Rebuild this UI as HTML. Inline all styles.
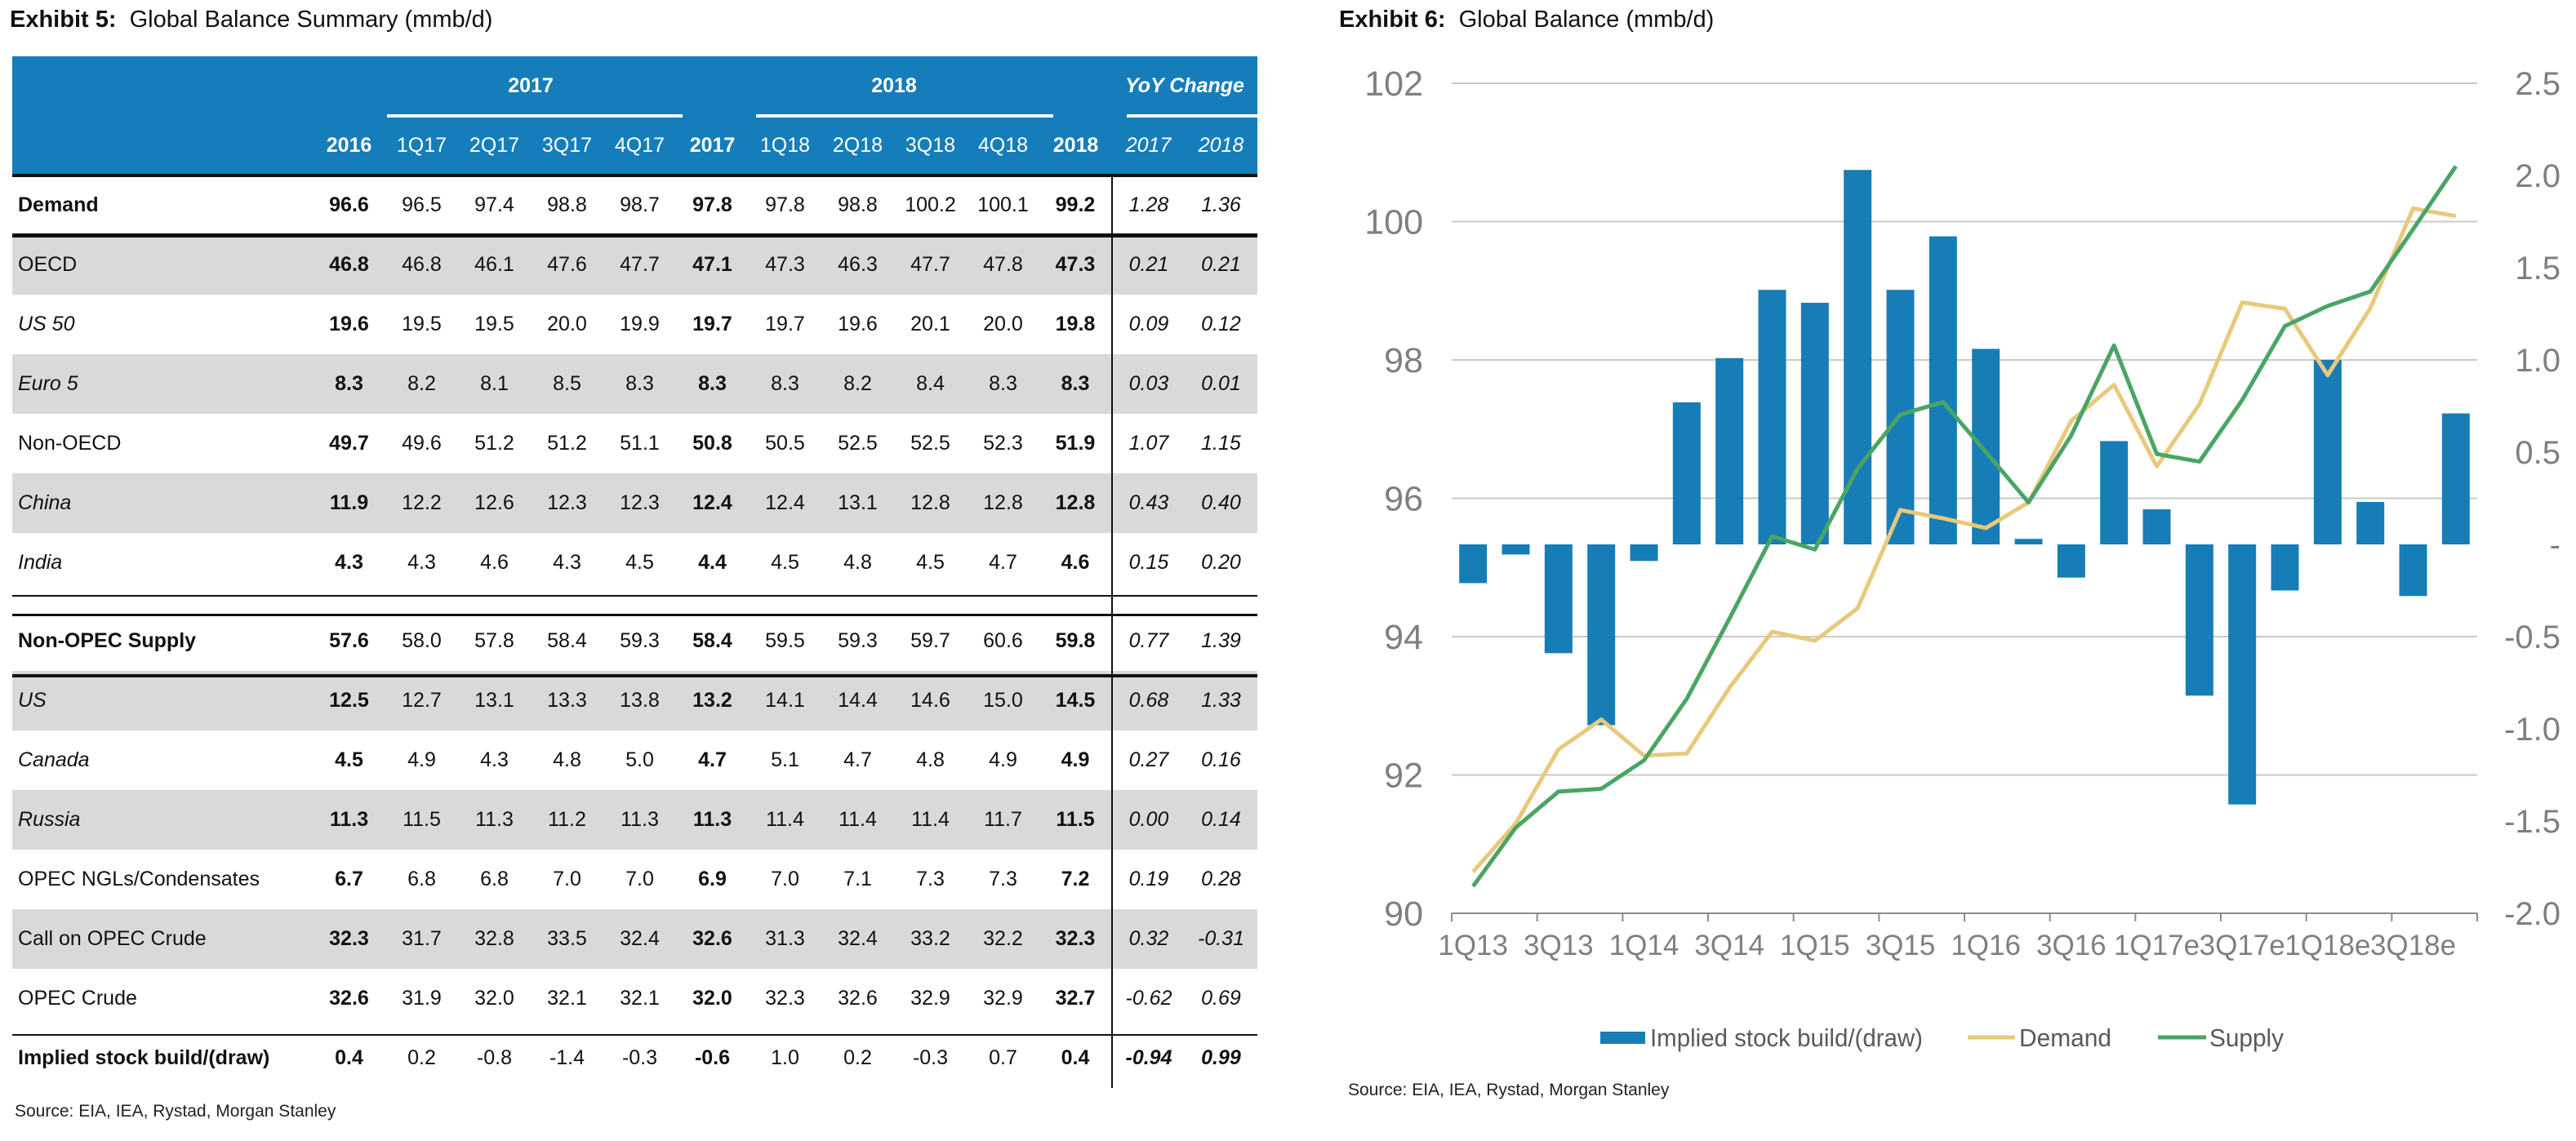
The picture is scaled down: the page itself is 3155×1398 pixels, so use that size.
<!DOCTYPE html>
<html><head><meta charset="utf-8">
<style>
body{margin:0;width:3155px;height:1398px;background:#fff;position:relative;overflow:hidden;font-family:"Liberation Sans",sans-serif;}
.title{position:absolute;font-size:29px;color:#111;}
table{position:absolute;left:15px;top:69px;border-collapse:collapse;table-layout:fixed;width:1525px;font-size:25px;color:#111;}
td{padding:0;text-align:center;height:73px;white-space:nowrap;}
tr.sp td{height:23px;line-height:10px;font-size:10px;}
td.l{text-align:left;padding-left:7px;}
tr.hd td{background:#167dbb;color:#fff;}
tr.g td{background:#d9d9d9;}
.b{font-weight:bold}.i{font-style:italic}
td.y{border-left:2px solid #111;}
.src{position:absolute;font-size:21px;color:#222;}
.ln{position:absolute;background:#111;}
.ul{position:absolute;background:#fff;height:4px;top:140px;}
</style></head><body>
<div class="title" style="left:12px;top:8px"><b>Exhibit 5:</b>&nbsp; Global Balance Summary (mmb/d)</div>
<table>
<colgroup><col style="width:368px"><col span="13" style="width:89px"></colgroup>
<tr class="hd"><td></td><td></td><td colspan="4" class="b">2017</td><td></td><td colspan="4" class="b">2018</td><td></td><td colspan="2" class="b i">YoY Change</td></tr>
<tr class="hd"><td></td><td class="b">2016</td><td>1Q17</td><td>2Q17</td><td>3Q17</td><td>4Q17</td><td class="b">2017</td><td>1Q18</td><td>2Q18</td><td>3Q18</td><td>4Q18</td><td class="b">2018</td><td class="i">2017</td><td class="i">2018</td></tr>
<tr><td class="l b">Demand</td><td class="b">96.6</td><td>96.5</td><td>97.4</td><td>98.8</td><td>98.7</td><td class="b">97.8</td><td>97.8</td><td>98.8</td><td>100.2</td><td>100.1</td><td class="b">99.2</td><td class="y i">1.28</td><td class="i">1.36</td></tr>
<tr class="g"><td class="l">OECD</td><td class="b">46.8</td><td>46.8</td><td>46.1</td><td>47.6</td><td>47.7</td><td class="b">47.1</td><td>47.3</td><td>46.3</td><td>47.7</td><td>47.8</td><td class="b">47.3</td><td class="y i">0.21</td><td class="i">0.21</td></tr>
<tr><td class="l i">US 50</td><td class="b">19.6</td><td>19.5</td><td>19.5</td><td>20.0</td><td>19.9</td><td class="b">19.7</td><td>19.7</td><td>19.6</td><td>20.1</td><td>20.0</td><td class="b">19.8</td><td class="y i">0.09</td><td class="i">0.12</td></tr>
<tr class="g"><td class="l i">Euro 5</td><td class="b">8.3</td><td>8.2</td><td>8.1</td><td>8.5</td><td>8.3</td><td class="b">8.3</td><td>8.3</td><td>8.2</td><td>8.4</td><td>8.3</td><td class="b">8.3</td><td class="y i">0.03</td><td class="i">0.01</td></tr>
<tr><td class="l">Non-OECD</td><td class="b">49.7</td><td>49.6</td><td>51.2</td><td>51.2</td><td>51.1</td><td class="b">50.8</td><td>50.5</td><td>52.5</td><td>52.5</td><td>52.3</td><td class="b">51.9</td><td class="y i">1.07</td><td class="i">1.15</td></tr>
<tr class="g"><td class="l i">China</td><td class="b">11.9</td><td>12.2</td><td>12.6</td><td>12.3</td><td>12.3</td><td class="b">12.4</td><td>12.4</td><td>13.1</td><td>12.8</td><td>12.8</td><td class="b">12.8</td><td class="y i">0.43</td><td class="i">0.40</td></tr>
<tr><td class="l i">India</td><td class="b">4.3</td><td>4.3</td><td>4.6</td><td>4.3</td><td>4.5</td><td class="b">4.4</td><td>4.5</td><td>4.8</td><td>4.5</td><td>4.7</td><td class="b">4.6</td><td class="y i">0.15</td><td class="i">0.20</td></tr>
<tr class="sp"><td></td><td></td><td></td><td></td><td></td><td></td><td></td><td></td><td></td><td></td><td></td><td></td><td class="y"></td><td></td></tr>
<tr><td class="l b">Non-OPEC Supply</td><td class="b">57.6</td><td>58.0</td><td>57.8</td><td>58.4</td><td>59.3</td><td class="b">58.4</td><td>59.5</td><td>59.3</td><td>59.7</td><td>60.6</td><td class="b">59.8</td><td class="y i">0.77</td><td class="i">1.39</td></tr>
<tr class="g"><td class="l i">US</td><td class="b">12.5</td><td>12.7</td><td>13.1</td><td>13.3</td><td>13.8</td><td class="b">13.2</td><td>14.1</td><td>14.4</td><td>14.6</td><td>15.0</td><td class="b">14.5</td><td class="y i">0.68</td><td class="i">1.33</td></tr>
<tr><td class="l i">Canada</td><td class="b">4.5</td><td>4.9</td><td>4.3</td><td>4.8</td><td>5.0</td><td class="b">4.7</td><td>5.1</td><td>4.7</td><td>4.8</td><td>4.9</td><td class="b">4.9</td><td class="y i">0.27</td><td class="i">0.16</td></tr>
<tr class="g"><td class="l i">Russia</td><td class="b">11.3</td><td>11.5</td><td>11.3</td><td>11.2</td><td>11.3</td><td class="b">11.3</td><td>11.4</td><td>11.4</td><td>11.4</td><td>11.7</td><td class="b">11.5</td><td class="y i">0.00</td><td class="i">0.14</td></tr>
<tr><td class="l">OPEC NGLs/Condensates</td><td class="b">6.7</td><td>6.8</td><td>6.8</td><td>7.0</td><td>7.0</td><td class="b">6.9</td><td>7.0</td><td>7.1</td><td>7.3</td><td>7.3</td><td class="b">7.2</td><td class="y i">0.19</td><td class="i">0.28</td></tr>
<tr class="g"><td class="l">Call on OPEC Crude</td><td class="b">32.3</td><td>31.7</td><td>32.8</td><td>33.5</td><td>32.4</td><td class="b">32.6</td><td>31.3</td><td>32.4</td><td>33.2</td><td>32.2</td><td class="b">32.3</td><td class="y i">0.32</td><td class="i">-0.31</td></tr>
<tr><td class="l">OPEC Crude</td><td class="b">32.6</td><td>31.9</td><td>32.0</td><td>32.1</td><td>32.1</td><td class="b">32.0</td><td>32.3</td><td>32.6</td><td>32.9</td><td>32.9</td><td class="b">32.7</td><td class="y i">-0.62</td><td class="i">0.69</td></tr>
<tr><td class="l b">Implied stock build/(draw)</td><td class="b">0.4</td><td>0.2</td><td>-0.8</td><td>-1.4</td><td>-0.3</td><td class="b">-0.6</td><td>1.0</td><td>0.2</td><td>-0.3</td><td>0.7</td><td class="b">0.4</td><td class="y i b">-0.94</td><td class="i b">0.99</td></tr>
</table>
<div class="ul" style="left:474px;width:362px"></div>
<div class="ul" style="left:926px;width:364px"></div>
<div class="ul" style="left:1380px;width:160px"></div>
<div class="ln" style="left:15px;top:213px;width:1525px;height:4px"></div>
<div class="ln" style="left:15px;top:286px;width:1525px;height:5px"></div>
<div class="ln" style="left:15px;top:729px;width:1525px;height:2px"></div>
<div class="ln" style="left:15px;top:752px;width:1525px;height:3px"></div>
<div class="ln" style="left:15px;top:826px;width:1525px;height:4px"></div>
<div class="ln" style="left:15px;top:1267px;width:1525px;height:2px"></div>
<div class="src" style="left:18px;top:1350px">Source: EIA, IEA, Rystad, Morgan Stanley</div>

<div class="title" style="left:1640px;top:8px"><b>Exhibit 6:</b>&nbsp; Global Balance (mmb/d)</div>
<div class="src" style="left:1651px;top:1324px">Source: EIA, IEA, Rystad, Morgan Stanley</div>

<svg id="chart" width="3155" height="1398" style="position:absolute;left:0;top:0">
<g id="grid"></g><g id="bars"></g><g id="lines"></g><g id="axes" font-family="Liberation Sans, sans-serif" fill="#7f7f7f"></g>
<g id="legend" font-family="Liberation Sans, sans-serif" fill="#595959" font-size="31">
<rect x="1960" y="1264" width="55" height="15" fill="#177db7"/>
<text x="2021" y="1282" textLength="334" lengthAdjust="spacingAndGlyphs">Implied stock build/(draw)</text>
<line x1="2410" y1="1271" x2="2468" y2="1271" stroke="#e8c97b" stroke-width="5"/>
<text x="2473" y="1282" textLength="113" lengthAdjust="spacingAndGlyphs">Demand</text>
<line x1="2643" y1="1271" x2="2702" y2="1271" stroke="#4aa564" stroke-width="5"/>
<text x="2706" y="1282" textLength="91" lengthAdjust="spacingAndGlyphs">Supply</text>
</g>
</svg>
<script>
const quarters=["1Q13","2Q13","3Q13","4Q13","1Q14","2Q14","3Q14","4Q14","1Q15","2Q15","3Q15","4Q15","1Q16","2Q16","3Q16","4Q16","1Q17e","2Q17e","3Q17e","4Q17e","1Q18e","2Q18e","3Q18e","4Q18e"];
const stockBuild=[-0.21,-0.055,-0.59,-0.98,-0.09,0.77,1.01,1.38,1.31,2.03,1.38,1.67,1.06,0.03,-0.18,0.56,0.19,-0.82,-1.41,-0.25,1.0,0.23,-0.28,0.71];
const demand=[90.6,91.3,92.37,92.8,92.28,92.31,93.26,94.07,93.94,94.41,95.83,95.71,95.57,95.94,97.12,97.64,96.46,97.36,98.83,98.74,97.78,98.75,100.19,100.08];
const supply=[90.39,91.24,91.76,91.8,92.21,93.1,94.26,95.45,95.26,96.43,97.21,97.39,96.67,95.94,96.91,98.21,96.64,96.53,97.42,98.49,98.78,98.99,99.89,100.8];
const leftTicks=[90,92,94,96,98,100,102];
const rightTicks=[-2.0,-1.5,-1.0,-0.5,0,0.5,1.0,1.5,2.0,2.5];
const rightTickLabels=["-2.0","-1.5","-1.0","-0.5","-","0.5","1.0","1.5","2.0","2.5"];

const X0=1778,X1=3034,band=(X1-X0)/quarters.length;
const xC=i=>X0+band*(i+0.5);
const yL=v=>1119-(v-90)*(1119-102)/12;
const yR=v=>1119-(v+2)*(1119-102)/4.5;
const NS="http://www.w3.org/2000/svg";
function mk(tag,attrs,parent){const e=document.createElementNS(NS,tag);for(const k in attrs)e.setAttribute(k,attrs[k]);parent.appendChild(e);return e;}
const grid=document.getElementById('grid'),bars=document.getElementById('bars'),lines=document.getElementById('lines'),axes=document.getElementById('axes');

leftTicks.forEach(v=>{
  if(v>90){const g=mk('line',{x1:X0,x2:X1,y1:yL(v),y2:yL(v),stroke:'#c9c9c9','stroke-width':2},grid);
  
  }
  const t=mk('text',{x:1743,y:yL(v)+15,'text-anchor':'end','font-size':43},axes);t.textContent=v;
  
  
});
rightTicks.forEach((v,k)=>{
  const t=mk('text',{x:3136,y:yR(v)+14,'text-anchor':'end','font-size':40},axes);t.textContent=rightTickLabels[k];
  
  
});
stockBuild.forEach((v,i)=>{
  const y0=yR(0),y1=yR(v);
  const r=mk('rect',{x:xC(i)-17,y:Math.min(y0,y1),width:34,height:Math.abs(y1-y0),fill:'#177db7'},bars);
  
  
});
function series(arr,color,name){
  const p=mk('polyline',{points:arr.map((v,i)=>xC(i)+','+yL(v)).join(' '),fill:'none',stroke:color,'stroke-width':5,'stroke-linejoin':'round'},lines);
  
  
}
series(demand,'#e8c97b','demand-line');
series(supply,'#4aa564','supply-line');
const ax=mk('line',{x1:X0,x2:X1,y1:1119,y2:1119,stroke:'#8c8c8c','stroke-width':2},axes);


for(let i=0;i<=quarters.length;i+=2){
  const tk=mk('line',{x1:X0+band*i,x2:X0+band*i,y1:1119,y2:1129,stroke:'#8c8c8c','stroke-width':2},axes);
  
  
}
quarters.forEach((q,i)=>{
  if(i%2)return;
  const t=mk('text',{x:xC(i),y:1170,'text-anchor':'middle','font-size':35},axes);t.textContent=q;
  
  
});
</script>
</body></html>
